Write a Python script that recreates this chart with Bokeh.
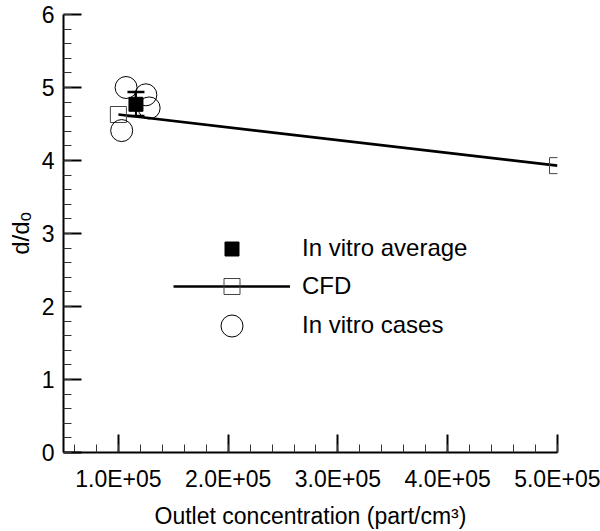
from bokeh.plotting import figure
from bokeh.models import (Range1d, FixedTicker, Legend, LegendItem,
                          ColumnDataSource, Whisker, TeeHead)
from bokeh.embed import file_html
from bokeh.resources import INLINE

# ---------------- data ----------------
cfd_x = [1.0e5, 5.0e5]
cfd_y = [4.63, 3.93]

cases_x = [1.07e5, 1.25e5, 1.28e5, 1.03e5]
cases_y = [5.00, 4.90, 4.72, 4.41]

avg_x = [1.16e5]
avg_y = [4.77]
avg_lo = [4.61]
avg_hi = [4.94]

x_ticks = [1e5, 2e5, 3e5, 4e5, 5e5]
x_tick_labels = ["1.0E+05", "2.0E+05", "3.0E+05", "4.0E+05", "5.0E+05"]
x_minor = [6e4 + 2e4 * i for i in range(23)]
y_ticks = [0, 1, 2, 3, 4, 5, 6]
y_minor = [round(0.2 * i, 1) for i in range(31)]

x_title = "Outlet concentration (part/cm\u00b3)"
y_title = "d/d\u2092"

FONT = "Liberation Sans"

p = figure(width=600, height=531, output_backend="svg", toolbar_location=None,
           x_range=Range1d(5e4, 5e5), y_range=Range1d(0, 6),
           min_border_left=63, min_border_right=43, min_border_top=14,
           min_border_bottom=79)
p.outline_line_color = None
p.xgrid.visible = False
p.ygrid.visible = False
p.background_fill_color = "white"
p.border_fill_color = "white"

for ax in (p.xaxis[0], p.yaxis[0]):
    ax.axis_line_width = 2
    ax.axis_line_color = "black"
    ax.major_tick_in = 18
    ax.major_tick_out = 0
    ax.major_tick_line_width = 2
    ax.major_tick_line_color = "black"
    ax.minor_tick_in = 8
    ax.minor_tick_out = 0
    ax.minor_tick_line_width = 1
    ax.minor_tick_line_color = "#333333"
    ax.major_label_text_font = FONT
    ax.major_label_text_font_size = "23px"
    ax.major_label_text_color = "black"
    ax.axis_label_text_font = FONT
    ax.axis_label_text_font_style = "normal"
    ax.axis_label_text_color = "black"

p.xaxis[0].ticker = FixedTicker(ticks=x_ticks, minor_ticks=x_minor)
p.xaxis[0].major_label_overrides = {t: l for t, l in zip(x_ticks, x_tick_labels)}
p.xaxis[0].major_label_standoff = 13
p.xaxis[0].axis_label = x_title
p.xaxis[0].axis_label_text_font_size = "23px"
p.xaxis[0].axis_label_standoff = 8
p.yaxis[0].ticker = FixedTicker(ticks=y_ticks, minor_ticks=y_minor)
p.yaxis[0].major_label_standoff = 9
p.yaxis[0].axis_label = y_title
p.yaxis[0].axis_label_text_font_size = "24px"
p.yaxis[0].axis_label_standoff = 5

# ---------------- glyphs ----------------
cfd_line = p.line(cfd_x, cfd_y, line_color="black", line_width=2.7)
cfd_sq = p.scatter(cfd_x, cfd_y, marker="square", size=16, fill_color=None,
                   line_color="#444444", line_width=1)
cases = p.scatter(cases_x, cases_y, marker="circle", size=22, fill_color=None,
                  line_color="black", line_width=1)

src = ColumnDataSource(dict(x=avg_x, lo=avg_lo, hi=avg_hi))
wh = Whisker(base="x", lower="lo", upper="hi", source=src, dimension="height",
             line_color="black", line_width=2,
             upper_head=TeeHead(size=17, line_width=2.5, line_color="black"),
             lower_head=TeeHead(size=17, line_width=2.5, line_color="black"))
p.add_layout(wh)
avg = p.scatter(avg_x, avg_y, marker="square", size=14, fill_color="black",
                line_color="black")

# ---------------- legend (three single-item legends) ----------------
def add_leg(label, renderers, gh, vy):
    lg = Legend(items=[LegendItem(label=label, renderers=renderers)],
                location=(110, vy), glyph_width=117, glyph_height=gh,
                label_standoff=12, label_text_font=FONT,
                label_text_font_size="24px", label_text_color="black",
                padding=0, margin=0, spacing=0,
                border_line_alpha=0, background_fill_alpha=0)
    p.add_layout(lg)

add_leg("In vitro average", [avg], 35, 186.5)
add_leg("CFD", [cfd_line, cfd_sq], 40, 146)
add_leg("In vitro cases", [cases], 55, 99.5)

open("out.html", "w").write(file_html(p, INLINE))
